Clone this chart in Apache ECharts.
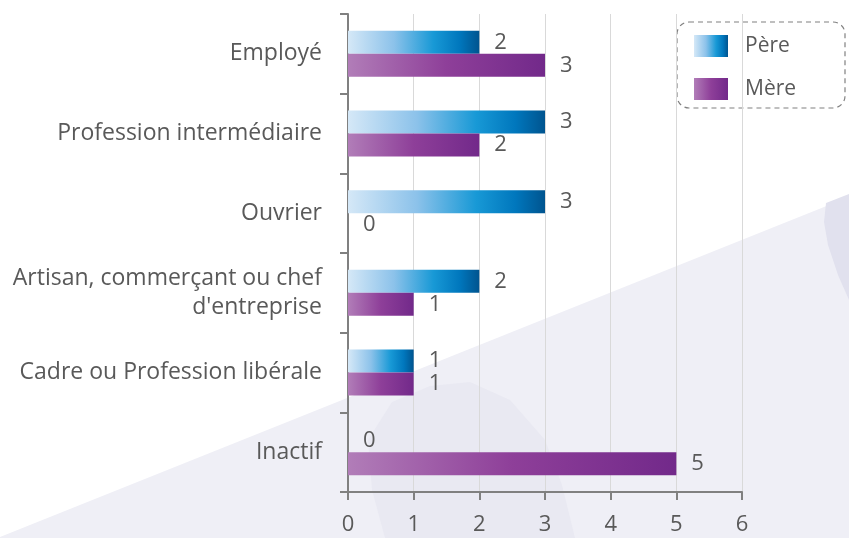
<!DOCTYPE html>
<html>
<head>
<meta charset="utf-8">
<script src="https://cdn.jsdelivr.net/npm/echarts@6/dist/echarts.min.js"></script>
<style>
  html, body { margin: 0; padding: 0; background: #fff; }
  #chart { width: 849px; height: 538px; }
</style>
</head>
<body>
<div id="chart"></div>
<script>
var categories = [
  "Employé",
  "Profession intermédiaire",
  "Ouvrier",
  "Artisan, commerçant ou chef\nd'entreprise",
  "Cadre ou Profession libérale",
  "Inactif"
];
var pere = [2, 3, 3, 2, 1, 0];
var mere = [3, 2, 0, 1, 1, 5];
var xTicks = [0, 1, 2, 3, 4, 5, 6];

var font = "Open Sans";
var textColor = "#595959";

function grad(stops) {
  return new echarts.graphic.LinearGradient(0, 0, 1, 0, stops);
}
var pereColor = grad([
  { offset: 0, color: "#d5e8f7" },
  { offset: 0.35, color: "#8cc2ea" },
  { offset: 0.65, color: "#1899d6" },
  { offset: 0.85, color: "#0077bd" },
  { offset: 1, color: "#00548f" }
]);
var mereColor = grad([
  { offset: 0, color: "#b17db8" },
  { offset: 0.5, color: "#8e3f99" },
  { offset: 1, color: "#72298a" }
]);

var myChart = echarts.init(document.getElementById("chart"));
var option = {
  backgroundColor: "#ffffff",
  animation: false,
  graphic: [
    // fond clair en diagonale
    {
      type: "polygon", z: -10, silent: true,
      shape: { points: [[0, 538], [0, 537], [849, 197], [849, 538]] },
      style: { fill: "#efeff6" }
    },
    {
      type: "polygon", z: -9, silent: true,
      shape: { points: [[826, 203], [849, 194], [849, 300], [838, 275], [828, 245], [824, 222]] },
      style: { fill: "#e1e1ee" }
    },
    {
      type: "polygon", z: -9, silent: true,
      shape: { points: [[368, 440], [392, 402], [430, 386], [470, 382], [510, 400], [545, 440], [562, 485], [575, 538], [385, 538], [372, 490]] },
      style: { fill: "#e9e9f2" }
    },
    // cadre de la légende
    {
      type: "rect", z: -5, silent: true,
      shape: { x: 677, y: 22, width: 168, height: 86, r: 12 },
      style: { fill: "#ffffff", stroke: "#808080", lineWidth: 1.2, lineDash: [5, 4] }
    }
  ],
  legend: {
    orient: "vertical",
    left: 689,
    top: 30,
    icon: "rect",
    itemWidth: 34,
    itemHeight: 22,
    itemGap: 21,
    padding: 5,
    data: ["Père", "Mère"],
    textStyle: { fontFamily: font, fontSize: 21, color: textColor, padding: [0, 0, 0, 12] }
  },
  grid: { left: 348, right: 107, top: 14, bottom: 46 },
  xAxis: {
    type: "value",
    min: 0,
    max: 6,
    interval: 1,
    axisLine: { show: true, lineStyle: { color: "#808080", width: 2 } },
    axisTick: { show: true, length: 8, lineStyle: { color: "#808080", width: 2 } },
    axisLabel: {
      fontFamily: font, fontSize: 22, color: textColor, margin: 22,
      formatter: function (v) { return xTicks.indexOf(v) >= 0 ? String(v) : ""; }
    },
    splitLine: { show: true, lineStyle: { color: "#d9d9d9", width: 1 } }
  },
  yAxis: {
    type: "category",
    inverse: true,
    data: categories,
    axisLine: { show: true, lineStyle: { color: "#808080", width: 2 } },
    axisTick: { show: true, length: 8, lineStyle: { color: "#808080", width: 2 } },
    axisLabel: {
      fontFamily: font, fontSize: 23, color: textColor, margin: 26,
      align: "right", lineHeight: 29
    }
  },
  series: [
    {
      name: "Père",
      type: "bar",
      data: pere,
      barWidth: 23,
      barGap: "0%",
      itemStyle: { color: pereColor },
      label: {
        show: true, position: "right", distance: 15,
        fontFamily: font, fontSize: 22, color: textColor
      }
    },
    {
      name: "Mère",
      type: "bar",
      data: mere,
      barWidth: 23,
      barGap: "0%",
      itemStyle: { color: mereColor },
      label: {
        show: true, position: "right", distance: 15,
        fontFamily: font, fontSize: 22, color: textColor
      }
    }
  ]
};
myChart.setOption(option);
</script>
</body>
</html>
